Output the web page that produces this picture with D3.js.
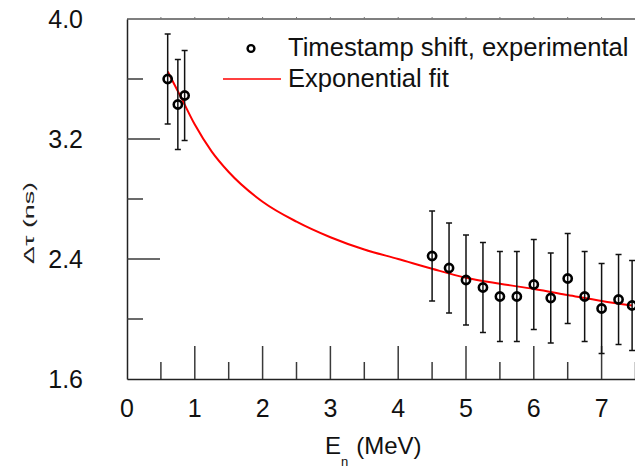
<!DOCTYPE html>
<html>
<head>
<meta charset="utf-8">
<script src="https://cdn.jsdelivr.net/npm/d3@7"></script>
<style>
  html, body { margin: 0; padding: 0; background: #fff; }
  svg { display: block; font-family: "Liberation Sans", Arial, sans-serif; }
</style>
</head>
<body>
<svg id="chart" width="635" height="469"></svg>
<script>
// Measured timestamp shift vs neutron energy
const energy = [0.6, 0.75, 0.85, 4.5, 4.75, 5.0, 5.25, 5.5, 5.75, 6.0, 6.25, 6.5, 6.75, 7.0, 7.25, 7.45];
const shift  = [3.60, 3.43, 3.49, 2.42, 2.34, 2.26, 2.21, 2.15, 2.15, 2.23, 2.14, 2.27, 2.15, 2.07, 2.13, 2.09];
const shiftErr = [0.3, 0.3, 0.3, 0.3, 0.3, 0.3, 0.3, 0.3, 0.3, 0.3, 0.3, 0.3, 0.3, 0.3, 0.3, 0.3];

// Fitted curve, sampled
const fitE   = [0.6, 0.8, 1.0, 1.25, 1.5, 2.0, 2.5, 3.0, 3.5, 4.0, 4.5, 5.0, 5.5, 6.0, 6.5, 7.0, 7.45];
const fitVal = [3.65, 3.475, 3.296, 3.116, 2.98, 2.782, 2.649, 2.545, 2.463, 2.40, 2.335, 2.275, 2.235, 2.20, 2.16, 2.12, 2.09];

const xTicks = [0, 1, 2, 3, 4, 5, 6, 7];
const yTicks = [1.6, 2.4, 3.2, 4.0];
const legendLabels = ["Timestamp shift, experimental", "Exponential fit"];

const svg = d3.select("#chart");
const plotLeft = 127, plotTop = 19, plotBottom = 379;
const x = d3.scaleLinear().domain([0, 7.5]).range([plotLeft, plotLeft + 7.5 * 67.8]);
const y = d3.scaleLinear().domain([1.6, 4.0]).range([plotBottom, plotTop]);
const tickColor = "#3a3a3a";

// top frame line with tiny outward ticks
svg.append("line").attr("x1", plotLeft).attr("x2", 635).attr("y1", y(4.0)).attr("y2", y(4.0))
  .attr("stroke", "#555").attr("stroke-width", 1.5);
svg.append("g").selectAll("line").data(d3.range(0.5, 7.6, 0.5)).join("line")
  .attr("x1", d => x(d)).attr("x2", d => x(d))
  .attr("y1", y(4.0)).attr("y2", y(4.0) - 2)
  .attr("stroke", "#777").attr("stroke-width", 1);

// bottom axis: inward ticks, major at integers, minor at halves
const xAxis = d3.axisBottom(x).tickValues([]).tickSizeOuter(0);
svg.append("g").attr("transform", `translate(0,${plotBottom})`).call(xAxis)
  .call(g => g.select(".domain").attr("stroke", "#222").attr("stroke-width", 1.5));
svg.append("g").selectAll("line").data(d3.range(0.5, 7.6, 0.5)).join("line")
  .attr("x1", d => x(d)).attr("x2", d => x(d))
  .attr("y1", plotBottom).attr("y2", d => plotBottom - (Number.isInteger(d) ? 33 : 17))
  .attr("stroke", tickColor).attr("stroke-width", 1.5);
svg.append("g").selectAll("text").data(xTicks).join("text")
  .attr("x", d => x(d)).attr("y", 417)
  .attr("text-anchor", "middle").attr("font-size", 25).attr("fill", "#111")
  .text(d => d);

// left axis
const yAxis = d3.axisLeft(y).tickValues([]).tickSizeOuter(0);
svg.append("g").attr("transform", `translate(${plotLeft},0)`).call(yAxis)
  .call(g => g.select(".domain").attr("stroke", "#222").attr("stroke-width", 1.5));
svg.append("g").selectAll("line").data([2.0, 2.4, 2.8, 3.2, 3.6]).join("line")
  .attr("x1", plotLeft).attr("x2", d => plotLeft + ([2.4, 3.2].includes(d) ? 33 : 16))
  .attr("y1", d => y(d)).attr("y2", d => y(d))
  .attr("stroke", tickColor).attr("stroke-width", 1.5);
svg.append("g").selectAll("text").data(yTicks).join("text")
  .attr("x", 83).attr("y", d => y(d) + 8.5)
  .attr("text-anchor", "end").attr("font-size", 25).attr("fill", "#111")
  .text(d => d.toFixed(1));

// axis titles
const xt = svg.append("text").attr("x", 325).attr("y", 454).attr("font-size", 24).attr("fill", "#111");
xt.append("tspan").text("E");
xt.append("tspan").attr("font-size", 13).attr("dy", 12).text("n");
xt.append("tspan").attr("dy", -12).attr("dx", 8).text("(MeV)");

svg.append("text")
  .attr("transform", "translate(34,223) rotate(-90)")
  .attr("text-anchor", "middle").attr("font-size", 15).attr("fill", "#222")
  .attr("textLength", 82).attr("lengthAdjust", "spacingAndGlyphs")
  .text("\u0394\u03c4 (ns)");

// fitted curve
const pts = fitE.map((e, i) => [e, fitVal[i]]);
svg.append("path").datum(pts)
  .attr("d", d3.line().x(d => x(d[0])).y(d => y(d[1])).curve(d3.curveMonotoneX))
  .attr("fill", "none").attr("stroke", "#f00").attr("stroke-width", 2);

// error bars and points
const data = energy.map((e, i) => ({ e, v: shift[i], s: shiftErr[i] }));
const eb = svg.append("g").attr("stroke", "#111").attr("stroke-width", 1.5);
eb.selectAll("line.v").data(data).join("line").attr("class", "v")
  .attr("x1", d => x(d.e)).attr("x2", d => x(d.e))
  .attr("y1", d => y(d.v + d.s)).attr("y2", d => y(d.v - d.s));
eb.selectAll("line.t").data(data).join("line").attr("class", "t")
  .attr("x1", d => x(d.e) - 3).attr("x2", d => x(d.e) + 3)
  .attr("y1", d => y(d.v + d.s)).attr("y2", d => y(d.v + d.s));
eb.selectAll("line.b").data(data).join("line").attr("class", "b")
  .attr("x1", d => x(d.e) - 3).attr("x2", d => x(d.e) + 3)
  .attr("y1", d => y(d.v - d.s)).attr("y2", d => y(d.v - d.s));
svg.append("g").selectAll("circle").data(data).join("circle")
  .attr("cx", d => x(d.e)).attr("cy", d => y(d.v)).attr("r", 4.1)
  .attr("fill", "none").attr("stroke", "#000").attr("stroke-width", 2.6);

// legend
svg.append("circle").attr("cx", 251).attr("cy", 48.5).attr("r", 3.4)
  .attr("fill", "none").attr("stroke", "#000").attr("stroke-width", 2.4);
svg.append("line").attr("x1", 223).attr("x2", 281).attr("y1", 79).attr("y2", 79)
  .attr("stroke", "#f00").attr("stroke-width", 1.5);
svg.append("g").selectAll("text").data(legendLabels).join("text")
  .attr("x", 288).attr("y", (d, i) => 56 + i * 31)
  .attr("font-size", 25.6).attr("fill", "#111")
  .text(d => d);
</script>
</body>
</html>
